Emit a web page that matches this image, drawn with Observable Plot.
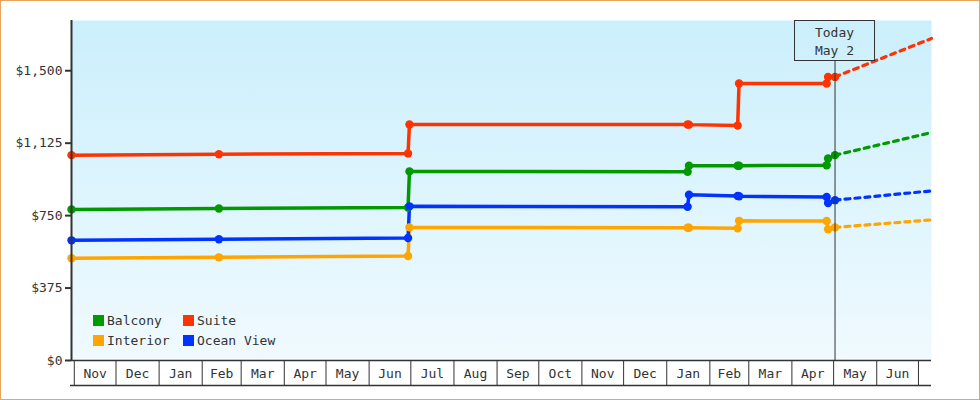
<!DOCTYPE html>
<html><head><meta charset="utf-8">
<script src="https://cdn.jsdelivr.net/npm/d3@7"></script>
<script src="https://cdn.jsdelivr.net/npm/@observablehq/plot@0.6"></script>
<style>
body{margin:0;background:#fff;}
#chart{width:980px;height:400px;position:relative;}
</style></head><body><div id="chart"></div>
<script>
// ---- data ----
const dates = ["2013-10-30","2014-02-13","2014-06-29","2014-06-30","2015-01-16","2015-01-17","2015-02-21","2015-02-22","2015-04-26","2015-04-27","2015-05-02"];
const balcony   = [782, 787, 792, 979, 977, 1008, 1008, 1008, 1011, 1046, 1063];
const suite     = [1063, 1068, 1072, 1222, 1222, 1221, 1216, 1434, 1434, 1468, 1468];
const interior  = [529, 534, 541, 689, 687, 687, 684, 723, 722, 679, 689];
const oceanView = [622, 628, 634, 798, 796, 858, 852, 850, 846, 815, 830];
const projectionEnd = "2015-07-10T09:00Z";
const projectionValues = {Balcony: 1180, Suite: 1667, Interior: 728, "Ocean View": 878};
const seriesNames  = ["Balcony", "Suite", "Interior", "Ocean View"];
const seriesColors = ["#009900", "#FF3300", "#FFA500", "#0033FF"];
const yTicks = [0, 375, 750, 1125, 1500];
const today = "2015-05-02";
const todayLabel = ["Today", "May 2"];
const xStart = "2013-10-30", xEnd = "2015-07-10T09:00Z";

// ---- build tables ----
const seriesValues = {Balcony: balcony, Interior: interior, "Ocean View": oceanView, Suite: suite};
const drawOrder = ["Balcony", "Interior", "Ocean View", "Suite"];
const rows = [];
for (const s of drawOrder) dates.forEach((d, i) => rows.push({series: s, date: new Date(d), value: seriesValues[s][i]}));
const projRows = [];
for (const s of drawOrder) {
  projRows.push({series: s, date: new Date(today), value: seriesValues[s][dates.length - 1]});
  projRows.push({series: s, date: new Date(projectionEnd), value: projectionValues[s]});
}
const monthStarts = d3.utcMonth.range(new Date("2013-11-01"), new Date("2015-07-02"));
const monthMids = d3.utcMonth.range(new Date("2013-11-01"), new Date("2015-07-01"))
  .map(m => new Date((+m + +d3.utcMonth.offset(m, 1)) / 2));

const font = "DejaVu Sans Mono";
const ink = "#333";
const xDomain = [new Date(xStart), new Date(xEnd)];

const plot = Plot.plot({
  width: 980, height: 400,
  marginLeft: 71, marginRight: 49, marginTop: 20, marginBottom: 40,
  style: {fontFamily: font, fontSize: "13px", color: ink, background: "transparent", overflow: "visible"},
  x: {type: "utc", domain: xDomain},
  y: {domain: [0, 1760]},
  color: {domain: seriesNames, range: seriesColors},
  marks: [
    Plot.frame({fill: "url(#bg)", stroke: null}),
    Plot.line(rows, {x: "date", y: "value", z: "series", stroke: "series", strokeWidth: 3.5}),
    Plot.dot(rows, {x: "date", y: "value", fill: "series", r: 4.2}),
    Plot.line(projRows, {x: "date", y: "value", z: "series", stroke: "series", strokeWidth: 3.2, strokeDasharray: "5,5"}),
    Plot.ruleX([new Date(today)], {stroke: ink, strokeWidth: 1}),
    Plot.ruleY([0], {stroke: ink, strokeWidth: 1.5}),
    Plot.ruleX([xDomain[0]], {stroke: ink, strokeWidth: 2}),
    Plot.axisY({ticks: yTicks, tickFormat: d3.format("$,"), tickSize: 6, tickPadding: 3, strokeWidth: 2, stroke: ink, fontSize: 13, label: null}),
    Plot.axisX({ticks: monthStarts, tickSize: 25, tickFormat: () => "", stroke: ink, strokeWidth: 1, label: null}),
    Plot.axisX({ticks: monthMids, tickSize: 0, tickPadding: 8, tickFormat: d3.utcFormat("%b"), fontSize: 13, label: null})
  ]
});

const svg = d3.select(plot);
const defs = svg.insert("defs", ":first-child");
const grad = defs.append("linearGradient").attr("id", "bg").attr("gradientUnits", "userSpaceOnUse")
  .attr("x1", 0).attr("y1", 20).attr("x2", 0).attr("y2", 360);
grad.append("stop").attr("offset", 0).attr("stop-color", "#CBEFFC");
grad.append("stop").attr("offset", 1).attr("stop-color", "#F0FAFF");

const xs = plot.scale("x");
// bottom line of the month cells
svg.append("line").attr("x1", 70).attr("x2", 931).attr("y1", 385.5).attr("y2", 385.5).attr("stroke", ink).attr("stroke-width", 1.5);

// today box
const tx = xs.apply(new Date(today));
const tb = svg.append("g").attr("font-family", font).attr("font-size", 13).attr("fill", ink).attr("text-anchor", "middle");
tb.append("rect").attr("x", tx - 40).attr("y", 20.5).attr("width", 80).attr("height", 40)
  .attr("fill", "url(#bg)").attr("stroke", ink).attr("stroke-width", 1);
tb.append("text").attr("x", tx).attr("y", 37).text(todayLabel[0]);
tb.append("text").attr("x", tx).attr("y", 55).text(todayLabel[1]);

// legend
const lg = svg.append("g").attr("font-family", font).attr("font-size", 13).attr("fill", ink).attr("text-anchor", "start");
const legendPos = [[93, 315], [183, 315], [93, 335], [183, 335]];
seriesNames.forEach((s, i) => {
  const [lx, ly] = legendPos[i];
  lg.append("rect").attr("x", lx).attr("y", ly).attr("width", 11).attr("height", 11).attr("fill", seriesColors[i]);
  lg.append("text").attr("x", lx + 14).attr("y", ly + 10).text(s);
});

// outer border
svg.append("rect").attr("x", 0.5).attr("y", 0.5).attr("width", 979).attr("height", 399)
  .attr("fill", "none").attr("stroke", "#E8A65C").attr("stroke-width", 1);

document.getElementById("chart").appendChild(plot);
</script></body></html>
